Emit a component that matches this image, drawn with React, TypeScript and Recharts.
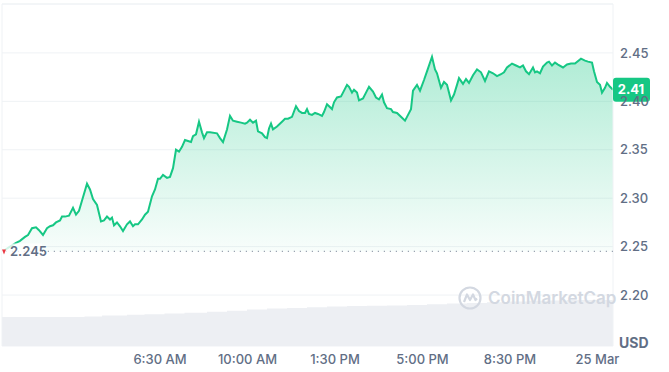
import {
  Area,
  CartesianGrid,
  ComposedChart,
  ReferenceLine,
  XAxis,
  YAxis,
} from "recharts";

// hours since the start of the window (~00:10, 24 Mar)
const hours = [
  0.08, 0.32, 0.56, 0.72, 0.92, 1.04, 1.2, 1.36, 1.48, 1.64, 1.8, 1.92, 2.04, 2.16, 2.32, 2.4, 2.52, 2.68,
  2.84, 2.96, 3.08, 3.24, 3.4, 3.52, 3.64, 3.8, 3.96, 4.08, 4.2, 4.32, 4.4, 4.48, 4.6, 4.72, 4.84, 5.0,
  5.12, 5.24, 5.32, 5.44, 5.6, 5.72, 5.84, 6.0, 6.12, 6.24, 6.32, 6.44, 6.6, 6.72, 6.84, 6.96, 7.08, 7.2,
  7.32, 7.44, 7.56, 7.64, 7.76, 7.88, 8.0, 8.08, 8.2, 8.32, 8.6, 8.72, 8.84, 9.0, 9.12, 9.24, 9.4, 9.56,
  9.72, 9.8, 9.92, 10.04, 10.16, 10.24, 10.4, 10.52, 10.6, 10.68, 10.76, 10.84, 11.0, 11.2, 11.32, 11.44,
  11.6, 11.76, 11.88, 12.0, 12.12, 12.2, 12.28, 12.4, 12.52, 12.64, 12.8, 12.88, 13.0, 13.2, 13.28, 13.4,
  13.56, 13.64, 13.8, 13.88, 14.0, 14.08, 14.2, 14.28, 14.44, 14.56, 14.68, 14.84, 14.96, 15.08, 15.2,
  15.28, 15.4, 15.56, 15.64, 15.8, 16.0, 16.12, 16.2, 16.36, 16.44, 16.6, 16.72, 16.88, 17.0, 17.2, 17.32,
  17.4, 17.56, 17.68, 17.8, 17.96, 18.08, 18.2, 18.28, 18.44, 18.56, 18.68, 18.84, 19.0, 19.16, 19.32,
  19.48, 19.64, 19.8, 19.96, 20.08, 20.2, 20.4, 20.56, 20.72, 20.84, 20.96, 21.08, 21.24, 21.32, 21.4,
  21.52, 21.64, 21.8, 21.88, 22.0, 22.12, 22.24, 22.44, 22.6, 22.76, 22.92, 23.16, 23.32, 23.44, 23.6,
  23.68, 23.8, 23.92, 24.0, 24.12, 24.2, 24.32, 24.44,
];

const prices = [
  2.246, 2.25, 2.254, 2.256, 2.26, 2.262, 2.269, 2.27, 2.267, 2.262, 2.269, 2.271, 2.272, 2.275, 2.277,
  2.281, 2.281, 2.282, 2.29, 2.283, 2.287, 2.301, 2.315, 2.309, 2.299, 2.293, 2.276, 2.277, 2.281, 2.278,
  2.28, 2.272, 2.275, 2.271, 2.266, 2.273, 2.276, 2.271, 2.273, 2.273, 2.278, 2.283, 2.286, 2.302, 2.309,
  2.32, 2.32, 2.324, 2.321, 2.322, 2.331, 2.35, 2.348, 2.353, 2.36, 2.359, 2.358, 2.364, 2.366, 2.379,
  2.368, 2.362, 2.368, 2.368, 2.367, 2.362, 2.358, 2.371, 2.385, 2.38, 2.379, 2.378, 2.377, 2.378, 2.381,
  2.378, 2.38, 2.369, 2.367, 2.363, 2.362, 2.372, 2.377, 2.371, 2.374, 2.379, 2.382, 2.382, 2.384, 2.395,
  2.39, 2.388, 2.388, 2.392, 2.387, 2.386, 2.388, 2.387, 2.385, 2.389, 2.397, 2.392, 2.399, 2.404, 2.405,
  2.409, 2.417, 2.415, 2.409, 2.412, 2.409, 2.401, 2.403, 2.409, 2.415, 2.41, 2.404, 2.402, 2.407, 2.399,
  2.393, 2.392, 2.389, 2.388, 2.383, 2.38, 2.384, 2.392, 2.411, 2.417, 2.411, 2.422, 2.431, 2.446, 2.433,
  2.429, 2.414, 2.42, 2.417, 2.401, 2.407, 2.417, 2.424, 2.418, 2.423, 2.419, 2.427, 2.433, 2.43, 2.421,
  2.431, 2.429, 2.426, 2.428, 2.43, 2.435, 2.439, 2.437, 2.435, 2.437, 2.431, 2.428, 2.435, 2.43, 2.431,
  2.429, 2.436, 2.44, 2.441, 2.437, 2.44, 2.438, 2.435, 2.438, 2.439, 2.439, 2.444, 2.442, 2.441, 2.44,
  2.431, 2.42, 2.417, 2.409, 2.414, 2.419, 2.415, 2.412,
];

// 24h volume, millions USD
const volumeHours = [
  0, 2.5, 3.3, 4, 5, 5.7, 6.5, 7.3, 8.2, 9, 9.8, 10.6, 11.4, 12.2, 13, 13.8, 14.6, 15.4, 16.2, 17, 17.8,
  18.6, 19.4, 20.2, 21, 21.8, 22.6, 23.4, 24.44,
];
const volumes = [
  127, 127, 129, 134, 137, 139, 142, 146, 150, 155, 160, 164, 167, 170, 173, 175, 177, 178, 180, 183, 186,
  189, 192, 195, 198, 200, 202, 202, 202,
];

const priceTicks = [2.2, 2.25, 2.3, 2.35, 2.4, 2.45];
const timeTicks = [6.32, 9.82, 13.32, 16.82, 20.32, 23.82];
const timeLabels = ["6:30 AM", "10:00 AM", "1:30 PM", "5:00 PM", "8:30 PM", "25 Mar"];

const openPrice = 2.245;
const lastPrice = 2.412;
const priceMin = 2.1474;
const priceMax = 2.5005;
const hourMax = 24.44;

const GREEN = "#16c784";
const TEXT = "#616e85";
const GRID = "#eff2f5";

const priceData = hours.map((t, i) => ({ t, p: prices[i] }));
const volumeData = volumeHours.map((t, i) => ({ t, v: volumes[i] }));

function OpenLabel({ viewBox }: any) {
  const { x, y } = viewBox;
  return (
    <g>
      <rect x={x} y={y - 8} width={40} height={16} fill="#fff" fillOpacity={0.8} />
      <path d={`M${x} ${y - 2} L${x + 4} ${y - 2} L${x + 2} ${y + 3} Z`} fill="#ea3943" />
      <text x={x + 8} y={y} dy="0.36em" fill={TEXT} fontSize={13} fontWeight={600}>
        {openPrice}
      </text>
    </g>
  );
}

function PriceTag({ viewBox }: any) {
  const { x, y, width } = viewBox;
  const left = x + width;
  return (
    <g>
      <rect x={left} y={y - 12} width={37} height={24} rx={3} fill={GREEN} />
      <text x={left + 18} y={y} dy="0.36em" textAnchor="middle" fill="#fff" fontSize={13} fontWeight={700}>
        {lastPrice.toFixed(2)}
      </text>
    </g>
  );
}

function Watermark() {
  return (
    <div
      style={{
        position: "absolute",
        left: 458,
        top: 286,
        display: "flex",
        alignItems: "center",
        gap: 6,
        color: "#d3d8e1",
        fontFamily: "Inter, sans-serif",
        fontSize: 17,
        fontWeight: 600,
      }}
    >
      <svg width={24} height={24} viewBox="0 0 24 24">
        <circle cx={12} cy={12} r={10.5} fill="none" stroke="#d3d8e1" strokeWidth={2.2} />
        <path d="M6 16 L9 8.5 L12 14 L15 8.5 L17.5 14 L19 12.5" fill="none" stroke="#d3d8e1" strokeWidth={2.2} strokeLinejoin="round" />
      </svg>
      CoinMarketCap
    </div>
  );
}

export default function App() {
  return (
    <div style={{ position: "absolute", left: 0, top: 0, width: 669, height: 372, fontFamily: "Inter, sans-serif", background: "#fff" }}>
      <ComposedChart width={669} height={372} margin={{ top: 4, right: 0, bottom: 0, left: 2 }}>
        <defs>
          <linearGradient id="priceFill" x1="0" y1="0" x2="0" y2="1">
            <stop offset="0%" stopColor={GREEN} stopOpacity={0.34} />
            <stop offset="100%" stopColor={GREEN} stopOpacity={0.03} />
          </linearGradient>
        </defs>
        <XAxis
          dataKey="t"
          type="number"
          domain={[0, hourMax]}
          ticks={timeTicks}
          tickFormatter={(v: number) => timeLabels[timeTicks.indexOf(v)] ?? ""}
          axisLine={false}
          tickLine={false}
          tickSize={0}
          tickMargin={9}
          height={26}
          interval={0}
          tick={{ fill: TEXT, fontSize: 13, fontWeight: 500 }}
          allowDataOverflow
        />
        <YAxis
          yAxisId="price"
          orientation="right"
          domain={[priceMin, priceMax]}
          ticks={priceTicks}
          tickFormatter={(v: number) => v.toFixed(2)}
          axisLine={false}
          tickLine={false}
          tickSize={0}
          tickMargin={7}
          width={56}
          interval={0}
          tick={{ fill: TEXT, fontSize: 13, fontWeight: 500 }}
          allowDataOverflow
        />
        <YAxis yAxisId="vol" hide domain={[0, 1500]} />
        <CartesianGrid yAxisId="price" vertical={false} stroke={GRID} />
        <Area
          yAxisId="vol"
          data={volumeData}
          dataKey="v"
          type="stepAfter"
          stroke="none"
          fill="#edeff3"
          fillOpacity={1}
          isAnimationActive={false}
        />
        <ReferenceLine yAxisId="price" y={priceMax} stroke={GRID} />
        <ReferenceLine yAxisId="price" x={0} stroke={GRID} />
        <ReferenceLine yAxisId="price" x={hourMax} stroke={GRID} />
        <Area
          yAxisId="price"
          data={priceData}
          dataKey="p"
          type="linear"
          baseValue={openPrice}
          stroke={GREEN}
          strokeWidth={2}
          fill="url(#priceFill)"
          fillOpacity={1}
          dot={false}
          activeDot={false}
          isAnimationActive={false}
        />
        <ReferenceLine
          yAxisId="price"
          y={openPrice}
          stroke="#9aa3b1"
          strokeWidth={1.2}
          strokeDasharray="1.2 4.8"
          label={<OpenLabel />}
        />
        <ReferenceLine yAxisId="price" y={lastPrice} stroke="none" label={<PriceTag />} />
      </ComposedChart>
      <Watermark />
      <div style={{ position: "absolute", left: 619, top: 334, color: TEXT, fontSize: 14, fontWeight: 700 }}>USD</div>
    </div>
  );
}
